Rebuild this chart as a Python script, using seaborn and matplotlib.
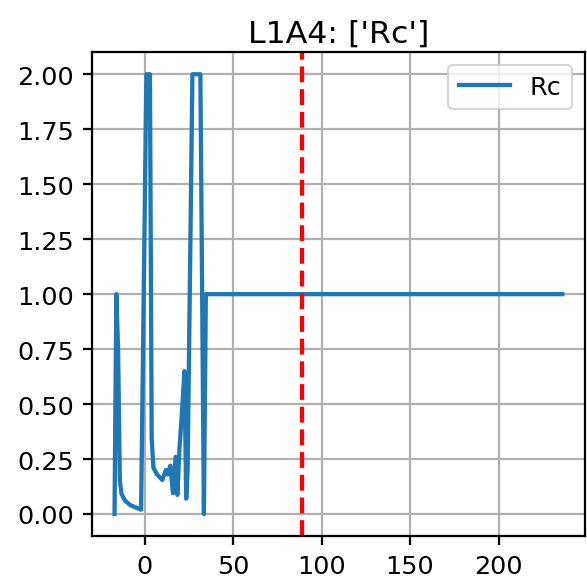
import matplotlib
matplotlib.use("Agg")
import matplotlib.pyplot as plt
import pandas as pd
import seaborn as sns

# values
t = [-17, -16, -15, -14, -13, -11, -8, -5, -2, 1, 3, 4, 5, 7, 10, 12, 13, 14.5,
     16, 17.5, 18.5, 19.7, 21, 22.5, 23.5, 24.3, 27, 31.5, 33.5, 34.6, 236]
rc = [0.0, 1.0, 0.75, 0.15, 0.09, 0.06, 0.04, 0.03, 0.02, 2.0, 2.0, 0.34, 0.21,
      0.18, 0.155, 0.2, 0.18, 0.22, 0.095, 0.26, 0.087, 0.3, 0.45, 0.65, 0.07,
      0.2, 2.0, 2.0, 0.0, 1.0, 1.0]
cutoff = 89
title = "L1A4: ['Rc']"

data = pd.DataFrame({"t": t, "Rc": rc})

fig, ax = plt.subplots(figsize=(4, 3.986), dpi=146.75)
fig.subplots_adjust(left=0.157, right=0.996, top=0.909, bottom=0.082)

sns.lineplot(data=data, x="t", y="Rc", ax=ax, label="Rc", color="#1f77b4",
             linewidth=2.1, sort=False, estimator=None)
ax.axvline(cutoff, color="red", linestyle="--", linewidth=2.1)

ax.grid(True, color="#b0b0b0", linewidth=1.1)
ax.set_xlabel("")
ax.set_ylabel("")
ax.set_title(title, fontsize=15.5, pad=5)
ax.tick_params(labelsize=12.5, width=1.1, length=4.5, pad=4.5)
for s in ax.spines.values():
    s.set_linewidth(1.1)
ax.legend(loc="upper right", fontsize=12.5)

plt.savefig("out.png")
